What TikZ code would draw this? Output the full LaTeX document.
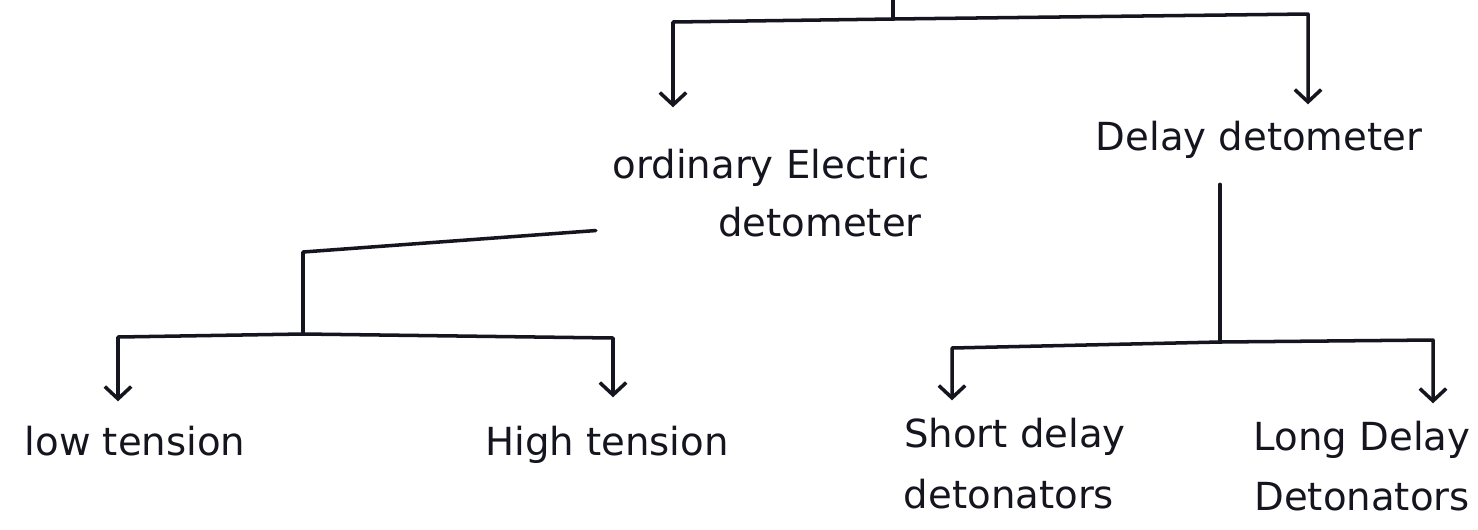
\documentclass[tikz,border=0pt]{standalone}
\usepackage{fontspec}
\setmainfont{DejaVu Sans}
\usetikzlibrary{arrows.meta}
\definecolor{ink}{HTML}{15151F}
\begin{document}
\begin{tikzpicture}[x=0.02cm,y=-0.02cm,
  wire/.style={draw=ink,line width=2pt,line join=round,line cap=round},
  arr/.style={wire,-{Straight Barb[length=7pt,width=15pt,line width=2pt]}},
  lbl/.style={anchor=base,inner sep=0pt,text=ink,font=\fontsize{22}{26}\selectfont}]
\useasboundingbox (0,0) rectangle (1478,529);
\fill[white] (0,0) rectangle (1478,529);

\node[lbl] (oed) at (771,178) {ordinary Electric};
\node[lbl] (oedb) at (820,236) {detometer};
\node[lbl] (dd) at (1259,150) {Delay detometer};
\node[lbl] (lt) at (135,455) {low tension};
\node[lbl] (ht) at (607,455) {High tension};
\node[lbl] (sd) at (1015,447) {Short delay};
\node[lbl] (sdb) at (1009,508) {detonators};
\node[lbl] (ld) at (1362,450) {Long Delay};
\node[lbl] (ldb) at (1362,510) {Detonators};

\coordinate (top) at (893,0);
\coordinate (tj) at (893,19);
\coordinate (tl) at (673,22);
\coordinate (tr) at (1308,14);
\draw[wire] (top) -- (tj);
\draw[arr, shorten >=0.82cm] (tj) -- (tl) -- (tl |- oed.north);
\draw[arr, shorten >=0.32cm] (tj) -- (tr) -- (tr |- dd.north);

\coordinate (ej) at (303,252);
\coordinate (lj) at (303,334);
\coordinate (ll) at (118,337);
\coordinate (lr) at (613,338);
\draw[wire, shorten <=2.45cm] (oedb.west) -- (ej) -- (lj);
\draw[arr, shorten >=0.48cm] (lj) -- (ll) -- (ll |- lt.north);
\draw[arr, shorten >=0.56cm] (lj) -- (lr) -- (lr |- ht.north);

\coordinate (dj) at (1220,342);
\coordinate (sl) at (952,348);
\coordinate (sr) at (1433,340);
\draw[wire, shorten <=0.52cm] (dj |- dd.south) -- (dj);
\draw[arr, shorten >=0.34cm] (dj) -- (sl) -- (sl |- sd.north);
\draw[arr, shorten >=0.34cm] (dj) -- (sr) -- (sr |- ld.north);
\end{tikzpicture}
\end{document}
